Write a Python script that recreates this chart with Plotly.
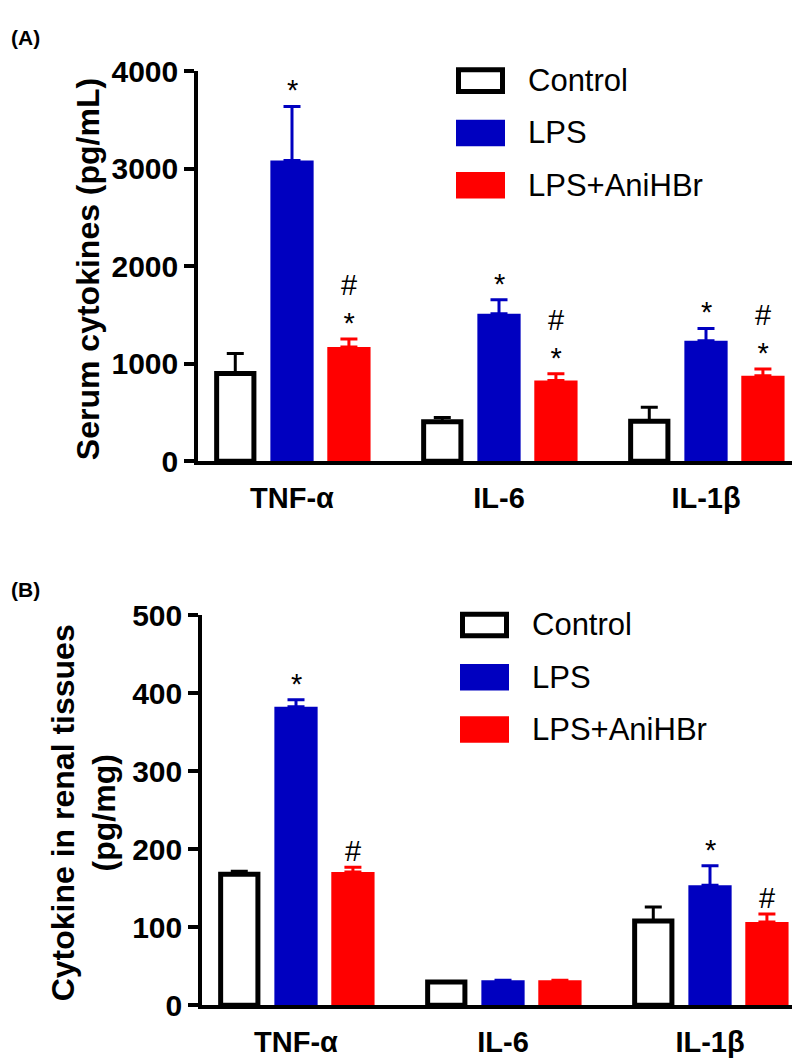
import plotly.graph_objects as go

# ---------------- data ----------------
categories = ["TNF-α", "IL-6", "IL-1β"]
groups = ["Control", "LPS", "LPS+AniHBr"]

serum_control = [900, 405, 410]
serum_control_err = [205, 43, 145]
serum_lps = [3084, 1513, 1235]
serum_lps_err = [554, 143, 127]
serum_ani = [1171, 828, 877]
serum_ani_err = [84, 70, 68]
serum_ticks = [0, 1000, 2000, 3000, 4000]
serum_sig_lps = ["*", "*", "*"]
serum_sig_ani = ["#<br>*", "#<br>*", "#<br>*"]

renal_control = [168, 30, 108]
renal_control_err = [4, 0, 18]
renal_lps = [383, 32, 154]
renal_lps_err = [9, 0, 25]
renal_ani = [171, 32, 107]
renal_ani_err = [6, 0, 10]
renal_ticks = [0, 100, 200, 300, 400, 500]
renal_sig_lps = ["*", "", "*"]
renal_sig_ani = ["#", "", "#"]

# ---------------- style ----------------
W, H = 800, 1063
FONT = "Arial, Liberation Sans, sans-serif"
BLUE = "#0000C0"
RED = "#FF0000"
COLORS = ["white", BLUE, RED]
ERRCOL = ["black", BLUE, RED]
CENTERS = [-0.274, 0.0, 0.275]
WIDTHS = [0.18, 0.209, 0.209]
PXU = 207.0  # pixels per category unit


def px(x):
    return x / W


def py(y):
    return 1 - y / H


panels = [
    dict(xa="x", ya="y", xdom=(190, 796), ydom=(47.7, 450.7), ymax=4000, ticks=serum_ticks,
         data=[(serum_control, serum_control_err), (serum_lps, serum_lps_err), (serum_ani, serum_ani_err)],
         sig=[serum_sig_lps, serum_sig_ani],
         title="Serum cytokines (pg/mL)", title_x=80, label="(A)", label_y=13),
    dict(xa="x2", ya="y2", xdom=(194, 800), ydom=(610, 1012.7), ymax=500, ticks=renal_ticks,
         data=[(renal_control, renal_control_err), (renal_lps, renal_lps_err), (renal_ani, renal_ani_err)],
         sig=[renal_sig_lps, renal_sig_ani],
         title="Cytokine in renal tissues<br>(pg/mg)", title_x=76, label="(B)", label_y=583),
]

fig = go.Figure()
annotations = []
shapes = []
layout = {}

for pi, p in enumerate(panels):
    for gi in range(3):
        vals, errs = p["data"][gi]
        fig.add_trace(go.Bar(
            x=categories, y=vals, name=groups[gi],
            xaxis=p["xa"], yaxis=p["ya"],
            width=WIDTHS[gi], offset=CENTERS[gi] - WIDTHS[gi] / 2,
            marker=dict(color=COLORS[gi],
                        line=dict(color="black" if gi == 0 else COLORS[gi], width=5 if gi == 0 else 0)),
            error_y=dict(type="data", array=errs, arrayminus=[0] * len(errs), symmetric=False,
                         color=ERRCOL[gi], thickness=3, width=8.5),
            showlegend=False,
        ))
    # significance marks
    for si, gi in enumerate([1, 2]):
        vals, errs = p["data"][gi]
        for ci in range(3):
            t = p["sig"][si][ci]
            if not t:
                continue
            annotations.append(dict(
                x=ci + CENTERS[gi], y=vals[ci] + errs[ci], xref=p["xa"], yref=p["ya"],
                text=t, showarrow=False, xanchor="center", yanchor="bottom", yshift=-2,
                font=dict(family=FONT, size=29, color="black"),
            ))
    # axes
    xk = "xaxis" if pi == 0 else "xaxis2"
    yk = "yaxis" if pi == 0 else "yaxis2"
    x0, x1 = p["xdom"]
    y0, y1 = p["ydom"]
    span = (x1 - x0) / PXU
    layout[xk] = dict(
        domain=[px(x0), px(x1)], anchor=p["ya"], type="category",
        range=[-94 / PXU, -94 / PXU + span],
        showline=True, linewidth=3.5, linecolor="black", ticks="", showgrid=False, zeroline=False,
        tickfont=dict(family=FONT, size=29, color="black", weight="bold"),
        ticklabelstandoff=8,
    )
    layout[yk] = dict(
        domain=[py(y1), py(y0)], anchor=p["xa"], range=[0, p["ymax"]],
        tickvals=p["ticks"], ticks="outside", ticklen=10, tickwidth=3.5, tickcolor="black",
        showline=True, linewidth=3.5, linecolor="black", showgrid=False, zeroline=False,
        tickfont=dict(family=FONT, size=30, color="black", weight="bold"),
    )
    # axis title
    annotations.append(dict(
        x=px(p["title_x"]), y=py((y0 + y1) / 2 + 3), xref="paper", yref="paper",
        text=p["title"], textangle=-90, showarrow=False, xanchor="center", yanchor="middle",
        font=dict(family=FONT, size=32, color="black", weight="bold"),
    ))
    # panel label
    annotations.append(dict(
        x=px(1), y=py(p["label_y"]), xref="paper", yref="paper", text=p["label"], showarrow=False,
        xanchor="left", yanchor="middle", font=dict(family=FONT, size=21, color="black", weight="bold"),
    ))
    # legend
    for gi in range(3):
        cy = y0 + 9.8 + 54 * gi
        lw = 5 if gi == 0 else 0
        shapes.append(dict(
            type="rect", xref="paper", yref="paper",
            x0=px(x0 + 258 + lw / 2), x1=px(x0 + 307 - lw / 2),
            y0=py(cy + 13.7 - lw / 2), y1=py(cy - 13.7 + lw / 2),
            fillcolor=COLORS[gi], line=dict(color="black", width=lw) if gi == 0 else dict(width=0),
        ))
        annotations.append(dict(
            x=px(x0 + 328), y=py(cy), xref="paper", yref="paper", text=groups[gi], showarrow=False,
            xanchor="left", yanchor="middle", font=dict(family=FONT, size=31, color="black"),
        ))

fig.update_layout(
    width=W, height=H, margin=dict(l=0, r=0, t=0, b=0),
    paper_bgcolor="white", plot_bgcolor="white",
    barmode="overlay", showlegend=False,
    annotations=annotations, shapes=shapes,
    **layout,
)

fig.write_html("out.html")
